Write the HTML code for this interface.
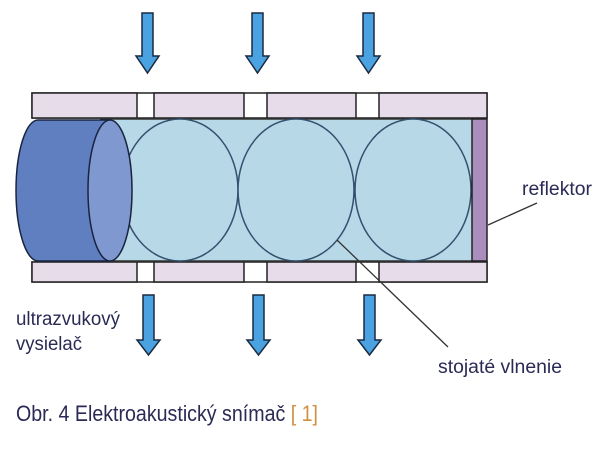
<!DOCTYPE html>
<html><head><meta charset="utf-8"><style>
html,body{margin:0;padding:0;background:#fff;}
svg{display:block;}
text{font-family:"Liberation Sans",sans-serif;fill:#2a2a55;}
</style></head><body>
<svg width="600" height="455" viewBox="0 0 600 455" xmlns="http://www.w3.org/2000/svg">
<g fill="#4aa3e0" stroke="#1a2a40" stroke-width="1.5" stroke-linejoin="miter">
<path d="M142,13 H153 V56 H159 L147.5,73 L136,56 H142 Z"/>
<path d="M252,13 H263 V56 H269 L257.5,73 L246,56 H252 Z"/>
<path d="M363,13 H374 V56 H380 L368.5,73 L357,56 H363 Z"/>
<path d="M143,295 H154 V340 H160 L148.5,355 L137,340 H143 Z"/>
<path d="M253,295 H264 V340 H270 L258.5,355 L247,340 H253 Z"/>
<path d="M364,295 H375 V340 H381 L369.5,355 L358,340 H364 Z"/>
</g>
<g stroke="#222" stroke-width="1.5">
<rect x="32" y="93" width="455" height="25" fill="#fff"/>
<rect x="32" y="262" width="455" height="20" fill="#fff"/>
<g fill="#e6dcea">
<rect x="32" y="93" width="105" height="25"/>
<rect x="154" y="93" width="90" height="25"/>
<rect x="267" y="93" width="89" height="25"/>
<rect x="379" y="93" width="108" height="25"/>
<rect x="32" y="262" width="105" height="20"/>
<rect x="154" y="262" width="90" height="20"/>
<rect x="267" y="262" width="89" height="20"/>
<rect x="379" y="262" width="108" height="20"/>
</g>
</g>
<rect x="100" y="119" width="372" height="142" fill="#b7d8e7"/>
<line x1="100" y1="119" x2="487" y2="119" stroke="#333" stroke-width="1.5"/>
<line x1="100" y1="261" x2="487" y2="261" stroke="#333" stroke-width="1.5"/>
<g fill="#b7d8e7" stroke="#34506e" stroke-width="1.5">
<ellipse cx="180" cy="190" rx="58" ry="71"/>
<ellipse cx="296" cy="190" rx="58" ry="71"/>
<ellipse cx="413" cy="190" rx="58" ry="71"/>
</g>
<rect x="472" y="119" width="15" height="142" fill="#a98dbd" stroke="#222" stroke-width="1.5"/>
<path d="M38,120 H110 V261 H38 A22,70.5 0 0 1 38,120 Z" fill="#5f7fc0" stroke="#1a2440" stroke-width="1.5"/>
<ellipse cx="110" cy="190.5" rx="22" ry="70.5" fill="#7f98cf" stroke="#1a2440" stroke-width="1.5"/>
<line x1="488" y1="225" x2="537" y2="203" stroke="#333" stroke-width="1.3"/>
<line x1="337" y1="240" x2="448" y2="347" stroke="#333" stroke-width="1.3"/>
<text x="522" y="195" font-size="19" textLength="70" lengthAdjust="spacingAndGlyphs">reflektor</text>
<text x="438" y="373" font-size="19" textLength="124" lengthAdjust="spacingAndGlyphs">stojaté vlnenie</text>
<text x="16" y="325" font-size="19" textLength="104" lengthAdjust="spacingAndGlyphs">ultrazvukový</text>
<text x="16" y="350" font-size="19" textLength="66" lengthAdjust="spacingAndGlyphs">vysielač</text>
<text x="16" y="421" font-size="22" textLength="302" lengthAdjust="spacingAndGlyphs">Obr. 4  Elektroakustický snímač <tspan fill="#d09040">[ 1]</tspan></text>
</svg>
</body></html>
